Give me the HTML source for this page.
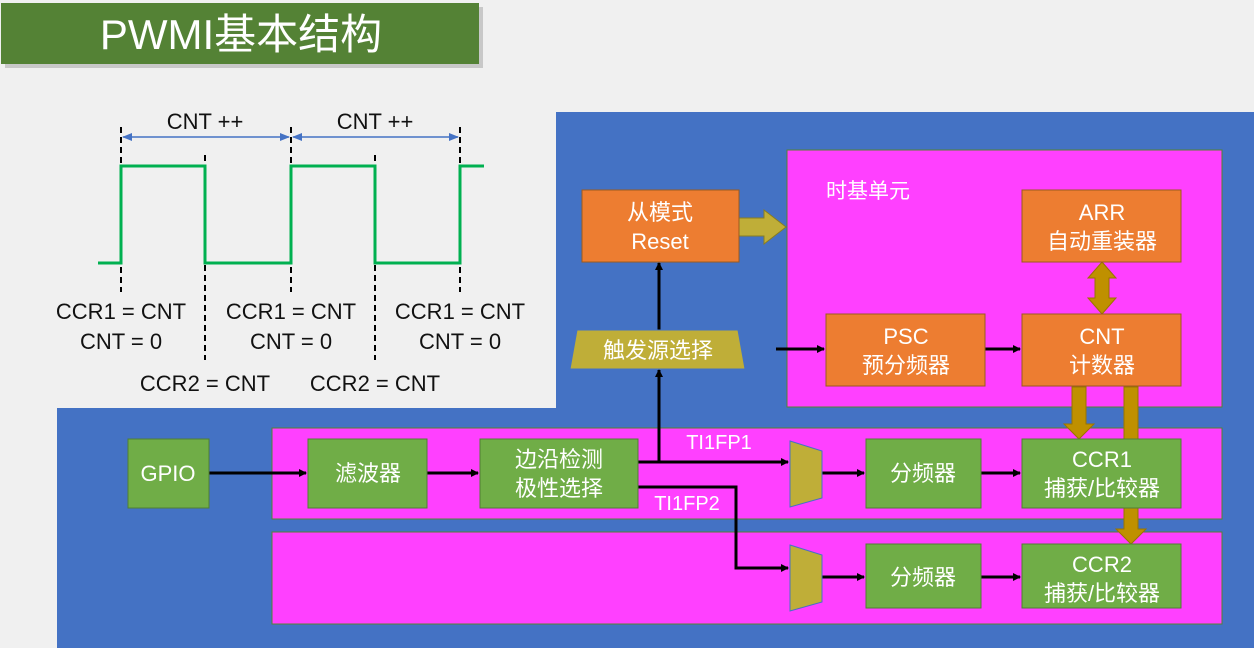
<!DOCTYPE html>
<html><head><meta charset="utf-8"><style>
body{margin:0;background:#f0f0f0;}
svg{display:block;font-family:"Liberation Sans","Noto Sans CJK SC",sans-serif;}
</style></head><body>
<svg width="1254" height="648" viewBox="0 0 1254 648" xmlns="http://www.w3.org/2000/svg">
<defs>
<marker id="ah" markerWidth="8" markerHeight="8" refX="7" refY="4" orient="auto" markerUnits="userSpaceOnUse"><path d="M0,0 L8,4 L0,8 z" fill="#000"/></marker>
<marker id="bh" markerWidth="10" markerHeight="10" refX="9" refY="5" orient="auto-start-reverse" markerUnits="userSpaceOnUse"><path d="M0,1 L10,5 L0,9 z" fill="#4472C4"/></marker>
</defs>
<rect width="1254" height="648" fill="#f0f0f0"/>
<rect x="5" y="7" width="478" height="61" fill="#c8c8c8"/>
<rect x="1" y="3" width="478" height="61" fill="#548235"/>
<text x="241" y="49" font-size="42" fill="#fff" text-anchor="middle">PWMI基本结构</text>
<path d="M556,112 H1254 V648 H57 V408 H556 Z" fill="#4472C4"/>
<rect x="787" y="150" width="435" height="257" fill="#ff40ff" stroke="#548235"/>
<rect x="272" y="428" width="950" height="91" fill="#ff40ff" stroke="#548235"/>
<rect x="272" y="532" width="950" height="92" fill="#ff40ff" stroke="#548235"/>
<text x="826" y="198" font-size="21" fill="#fff">时基单元</text>
<g stroke="#000" stroke-width="2" stroke-dasharray="6,4">
<line x1="121" y1="127" x2="121" y2="292"/><line x1="291" y1="127" x2="291" y2="292"/><line x1="460" y1="127" x2="460" y2="292"/>
<line x1="205" y1="155" x2="205" y2="360"/><line x1="375" y1="155" x2="375" y2="360"/>
</g>
<polyline points="98,263 121,263 121,166 205,166 205,263 291,263 291,166 375,166 375,263 460,263 460,166 484,166" fill="none" stroke="#00B050" stroke-width="3"/>
<line x1="123" y1="137" x2="289" y2="137" stroke="#4472C4" stroke-width="1.5" marker-start="url(#bh)" marker-end="url(#bh)"/>
<line x1="293" y1="137" x2="458" y2="137" stroke="#4472C4" stroke-width="1.5" marker-start="url(#bh)" marker-end="url(#bh)"/>
<g font-size="22" fill="#111" text-anchor="middle">
<text x="205" y="129">CNT ++</text><text x="375" y="129">CNT ++</text>
<text x="121" y="319">CCR1 = CNT</text><text x="121" y="349">CNT = 0</text>
<text x="291" y="319">CCR1 = CNT</text><text x="291" y="349">CNT = 0</text>
<text x="460" y="319">CCR1 = CNT</text><text x="460" y="349">CNT = 0</text>
<text x="205" y="391">CCR2 = CNT</text><text x="375" y="391">CCR2 = CNT</text>
</g>
<path d="M739,218 H764 V210 L786,227 L764,244 V236 H739 Z" fill="#BFAE38" stroke="#8a7d20" stroke-width="1"/>
<path d="M1102,262 L1116,278 H1109 V298 H1116 L1102,314 L1088,298 H1095 V278 H1088 Z" fill="#BF9000" stroke="#9a7400"/>
<path d="M1072,387 H1086 V424 H1094 L1079,439 L1064,424 H1072 Z" fill="#BF9000" stroke="#9a7400"/>
<path d="M1124,387 H1138 V529 H1146 L1131,544 L1116,529 H1124 Z" fill="#BF9000" stroke="#9a7400"/>
<g stroke="#000" stroke-width="3" fill="none" marker-end="url(#ah)">
<line x1="209" y1="473" x2="306" y2="473"/>
<line x1="427" y1="473" x2="478" y2="473"/>
<polyline points="638,462 788,462"/>
<line x1="659" y1="462" x2="659" y2="370"/>
<line x1="659" y1="330" x2="659" y2="263"/>
<polyline points="638,487 736,487 736,568 788,568"/>
<line x1="822" y1="473" x2="864" y2="473"/>
<line x1="822" y1="577" x2="864" y2="577"/>
<line x1="981" y1="473" x2="1020" y2="473"/>
<line x1="981" y1="577" x2="1020" y2="577"/>
<line x1="776" y1="349" x2="824" y2="349"/>
<line x1="985" y1="349" x2="1020" y2="349"/>
</g>
<g fill="#ED7D31" stroke="#9c5a1e">
<rect x="582" y="190" width="157" height="72"/>
<rect x="1022" y="190" width="159" height="72"/>
<rect x="826" y="314" width="159" height="72"/>
<rect x="1022" y="314" width="159" height="72"/>
</g>
<polygon points="577,330 738,330 745,369 570,369" fill="#BFAE38" stroke="#4472C4"/>
<g fill="#70AD47" stroke="#507e33">
<rect x="128" y="439" width="81" height="69"/>
<rect x="308" y="439" width="119" height="69"/>
<rect x="480" y="439" width="158" height="69"/>
<rect x="866" y="439" width="115" height="69"/>
<rect x="866" y="544" width="115" height="64"/>
<rect x="1022" y="439" width="159" height="69"/>
<rect x="1022" y="544" width="159" height="64"/>
</g>
<polygon points="790,441 822,451 822,498 790,507" fill="#BFAE38" stroke="#4472C4"/>
<polygon points="790,545 822,555 822,602 790,611" fill="#BFAE38" stroke="#4472C4"/>
<g font-size="22" fill="#fff" text-anchor="middle">
<text x="660" y="220">从模式</text><text x="660" y="249">Reset</text>
<text x="1102" y="220">ARR</text><text x="1102" y="249">自动重装器</text>
<text x="906" y="344">PSC</text><text x="906" y="373">预分频器</text>
<text x="1102" y="344">CNT</text><text x="1102" y="373">计数器</text>
<text x="658" y="358">触发源选择</text>
<text x="168" y="481">GPIO</text>
<text x="368" y="481">滤波器</text>
<text x="559" y="467">边沿检测</text><text x="559" y="496">极性选择</text>
<text x="923" y="481">分频器</text>
<text x="923" y="585">分频器</text>
<text x="1102" y="467">CCR1</text><text x="1102" y="496">捕获/比较器</text>
<text x="1102" y="572">CCR2</text><text x="1102" y="601">捕获/比较器</text>
<text x="719" y="449" font-size="20">TI1FP1</text>
<text x="687" y="510" font-size="20">TI1FP2</text>
</g>
</svg>
</body></html>
